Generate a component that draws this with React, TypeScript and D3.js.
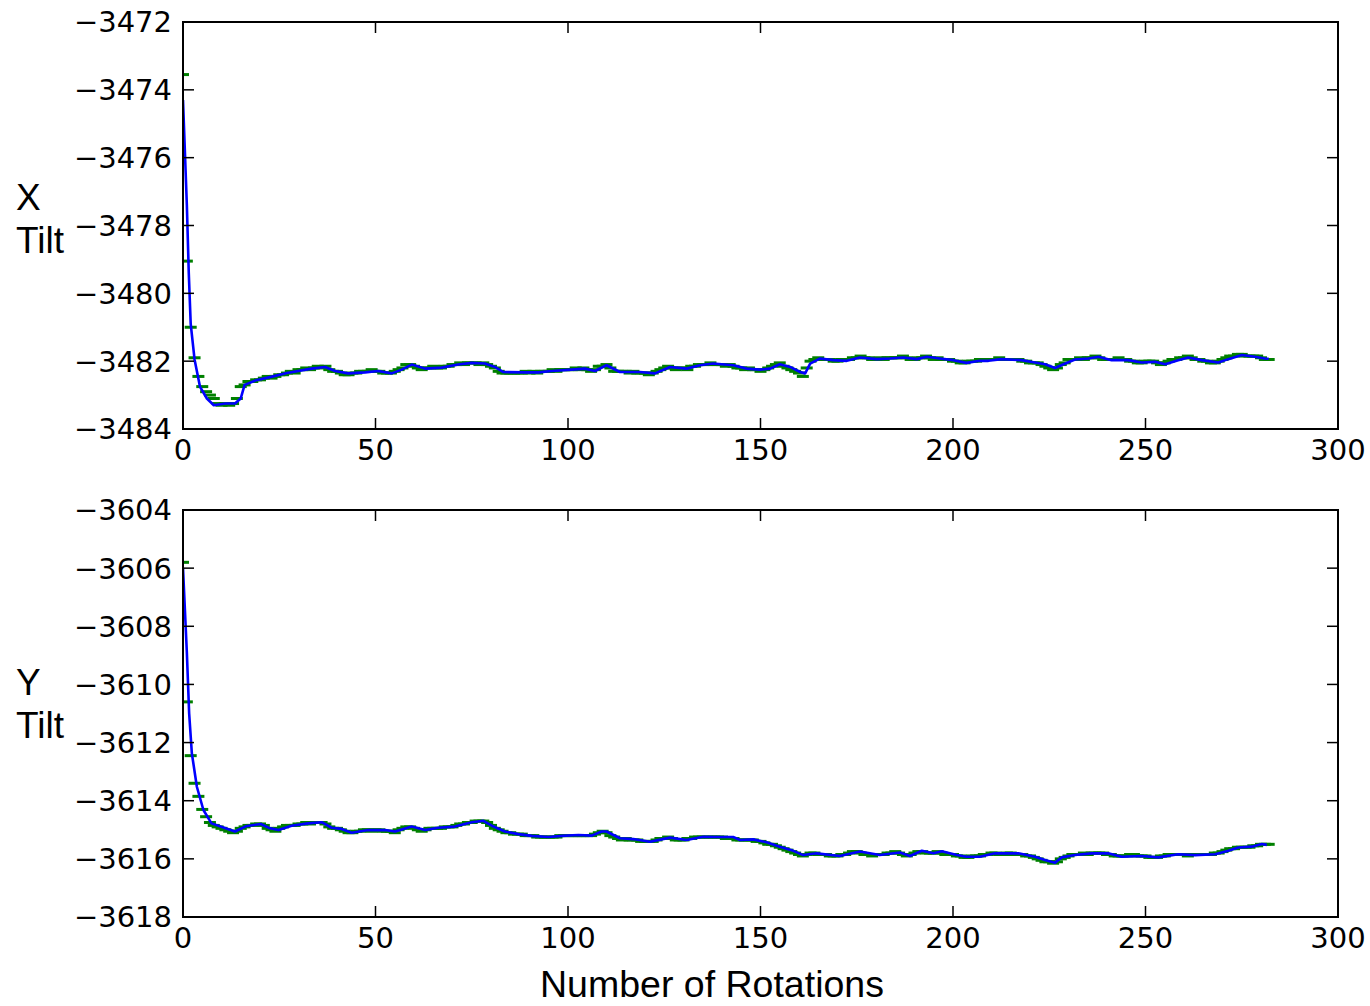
import React from 'react';
import * as d3 from 'd3';

// raw tilt readings, one per rotation (green "_" markers)
const xTiltRaw = [
  -3473.55, -3479.05, -3481.0, -3481.9, -3482.45, -3482.75, -3482.9, -3483.0, -3483.1, -3483.25,
  -3483.3, -3483.25, -3483.3, -3483.25, -3483.1, -3482.75, -3482.7, -3482.6, -3482.6, -3482.55,
  -3482.55, -3482.5, -3482.45, -3482.5, -3482.45, -3482.4, -3482.4, -3482.35, -3482.3, -3482.35,
  -3482.25, -3482.25, -3482.2, -3482.25, -3482.2, -3482.15, -3482.2, -3482.15, -3482.25, -3482.3,
  -3482.3, -3482.35, -3482.4, -3482.4, -3482.35, -3482.35, -3482.3, -3482.3, -3482.3, -3482.25,
  -3482.3, -3482.3, -3482.35, -3482.35, -3482.35, -3482.3, -3482.25, -3482.2, -3482.1, -3482.1,
  -3482.15, -3482.2, -3482.25, -3482.2, -3482.2, -3482.15, -3482.2, -3482.2, -3482.15, -3482.15,
  -3482.1, -3482.1, -3482.05, -3482.1, -3482.05, -3482.05, -3482.05, -3482.1, -3482.05, -3482.1,
  -3482.15, -3482.2, -3482.3, -3482.35, -3482.35, -3482.35, -3482.35, -3482.35, -3482.35, -3482.3,
  -3482.35, -3482.3, -3482.35, -3482.3, -3482.3, -3482.3, -3482.25, -3482.3, -3482.25, -3482.25,
  -3482.25, -3482.25, -3482.2, -3482.25, -3482.2, -3482.25, -3482.3, -3482.25, -3482.15, -3482.15,
  -3482.1, -3482.2, -3482.3, -3482.3, -3482.3, -3482.3, -3482.35, -3482.3, -3482.35, -3482.35,
  -3482.35, -3482.4, -3482.35, -3482.3, -3482.25, -3482.2, -3482.15, -3482.2, -3482.25, -3482.2,
  -3482.2, -3482.25, -3482.15, -3482.15, -3482.1, -3482.1, -3482.1, -3482.05, -3482.1, -3482.1,
  -3482.1, -3482.15, -3482.1, -3482.15, -3482.2, -3482.2, -3482.25, -3482.2, -3482.25, -3482.25,
  -3482.3, -3482.25, -3482.2, -3482.15, -3482.1, -3482.05, -3482.15, -3482.2, -3482.25, -3482.3,
  -3482.35, -3482.45, -3482.2, -3482.0, -3481.95, -3481.9, -3481.95, -3481.95, -3481.95, -3482.0,
  -3482.0, -3481.95, -3481.95, -3481.95, -3481.9, -3481.9, -3481.85, -3481.9, -3481.9, -3481.95,
  -3481.95, -3481.9, -3481.95, -3481.9, -3481.9, -3481.9, -3481.9, -3481.85, -3481.9, -3481.95,
  -3481.95, -3481.9, -3481.9, -3481.85, -3481.9, -3481.95, -3481.9, -3481.95, -3481.95, -3481.95,
  -3482.0, -3482.0, -3482.05, -3482.05, -3482.0, -3482.0, -3482.0, -3481.95, -3481.95, -3481.95,
  -3481.95, -3481.95, -3481.9, -3481.95, -3481.95, -3481.95, -3481.95, -3481.95, -3482.0, -3482.0,
  -3482.05, -3482.05, -3482.05, -3482.1, -3482.15, -3482.2, -3482.25, -3482.2, -3482.1, -3482.05,
  -3481.95, -3481.95, -3481.95, -3481.9, -3481.95, -3481.9, -3481.9, -3481.85, -3481.9, -3481.95,
  -3481.95, -3481.95, -3481.95, -3481.9, -3481.95, -3481.95, -3482.0, -3482.0, -3482.05, -3482.05,
  -3482.0, -3482.0, -3482.0, -3482.05, -3482.1, -3482.05, -3482.0, -3481.95, -3481.95, -3481.9,
  -3481.9, -3481.85, -3481.9, -3481.95, -3481.95, -3482.0, -3482.0, -3482.05, -3482.05, -3482.0,
  -3481.95, -3481.9, -3481.85, -3481.85, -3481.8, -3481.8, -3481.85, -3481.85, -3481.85, -3481.85,
  -3481.9, -3481.95, -3481.95,
];

const yTiltRaw = [
  -3605.8, -3610.6, -3612.45, -3613.4, -3613.85, -3614.3, -3614.55, -3614.75, -3614.85, -3614.9,
  -3614.95, -3615.0, -3615.05, -3615.1, -3615.05, -3614.95, -3614.9, -3614.85, -3614.85, -3614.8,
  -3614.8, -3614.85, -3614.95, -3615.0, -3615.05, -3614.95, -3614.9, -3614.85, -3614.85, -3614.85,
  -3614.8, -3614.8, -3614.75, -3614.8, -3614.75, -3614.75, -3614.75, -3614.8, -3614.9, -3614.95,
  -3614.95, -3615.0, -3615.05, -3615.1, -3615.1, -3615.05, -3615.05, -3615.0, -3615.0, -3615.05,
  -3615.0, -3615.0, -3615.05, -3615.05, -3615.05, -3615.1, -3615.0, -3614.95, -3614.9, -3614.9,
  -3614.95, -3615.0, -3615.05, -3615.0, -3614.95, -3614.95, -3614.95, -3614.95, -3614.9, -3614.9,
  -3614.9, -3614.85, -3614.8, -3614.8, -3614.75, -3614.75, -3614.7, -3614.7, -3614.7, -3614.75,
  -3614.85, -3614.95, -3615.0, -3615.05, -3615.1, -3615.1, -3615.15, -3615.15, -3615.15, -3615.2,
  -3615.2, -3615.2, -3615.25, -3615.25, -3615.25, -3615.25, -3615.25, -3615.25, -3615.2, -3615.2,
  -3615.2, -3615.2, -3615.2, -3615.2, -3615.2, -3615.2, -3615.2, -3615.15, -3615.1, -3615.05,
  -3615.1, -3615.2, -3615.25, -3615.3, -3615.35, -3615.3, -3615.35, -3615.35, -3615.35, -3615.4,
  -3615.4, -3615.4, -3615.4, -3615.35, -3615.3, -3615.3, -3615.25, -3615.3, -3615.35, -3615.35,
  -3615.35, -3615.3, -3615.3, -3615.25, -3615.25, -3615.25, -3615.25, -3615.25, -3615.25, -3615.25,
  -3615.25, -3615.3, -3615.3, -3615.3, -3615.35, -3615.35, -3615.35, -3615.35, -3615.35, -3615.4,
  -3615.4, -3615.45, -3615.5, -3615.5, -3615.55, -3615.6, -3615.65, -3615.7, -3615.75, -3615.8,
  -3615.85, -3615.9, -3615.85, -3615.8, -3615.8, -3615.85, -3615.85, -3615.85, -3615.9, -3615.9,
  -3615.9, -3615.85, -3615.85, -3615.8, -3615.75, -3615.75, -3615.8, -3615.85, -3615.85, -3615.9,
  -3615.85, -3615.85, -3615.85, -3615.8, -3615.8, -3615.75, -3615.8, -3615.85, -3615.9, -3615.85,
  -3615.8, -3615.75, -3615.75, -3615.8, -3615.8, -3615.8, -3615.75, -3615.8, -3615.85, -3615.85,
  -3615.85, -3615.9, -3615.9, -3615.95, -3615.95, -3615.9, -3615.9, -3615.9, -3615.85, -3615.85,
  -3615.8, -3615.8, -3615.85, -3615.85, -3615.8, -3615.8, -3615.85, -3615.85, -3615.85, -3615.9,
  -3615.9, -3615.95, -3616.0, -3616.05, -3616.1, -3616.1, -3616.15, -3616.1, -3616.0, -3615.95,
  -3615.9, -3615.85, -3615.85, -3615.85, -3615.8, -3615.85, -3615.8, -3615.8, -3615.8, -3615.8,
  -3615.85, -3615.85, -3615.9, -3615.9, -3615.9, -3615.9, -3615.85, -3615.85, -3615.9, -3615.9,
  -3615.9, -3615.95, -3615.95, -3615.95, -3615.9, -3615.9, -3615.85, -3615.85, -3615.85, -3615.85,
  -3615.85, -3615.9, -3615.85, -3615.85, -3615.85, -3615.85, -3615.85, -3615.85, -3615.8, -3615.8,
  -3615.75, -3615.7, -3615.65, -3615.65, -3615.6, -3615.6, -3615.6, -3615.6, -3615.55, -3615.55,
  -3615.5, -3615.5, -3615.5,
];

// filtered estimate (blue line), [rotation, tilt]
const xTiltFiltered = [
  [0, -3474.3], [1, -3477.4], [1.5, -3479.4], [2, -3480.9], [3, -3481.95], [4.4, -3482.75],
  [6.2, -3483.1], [8, -3483.3], [11, -3483.25], [13.5, -3483.25], [15, -3483.1], [16, -3482.7],
  [19, -3482.56], [22.6, -3482.47], [27, -3482.35], [33.4, -3482.22], [36.9, -3482.17], [39.5, -3482.29],
  [42.9, -3482.36], [47.3, -3482.33], [50.7, -3482.29], [54.2, -3482.36], [56.8, -3482.25], [59.4, -3482.1],
  [62.9, -3482.22], [67.2, -3482.19], [71.5, -3482.1], [75, -3482.05], [78.4, -3482.07], [81, -3482.17],
  [83.2, -3482.32], [88.8, -3482.33], [92.3, -3482.33], [95.8, -3482.29], [101, -3482.25], [104.4, -3482.22],
  [107, -3482.29], [110, -3482.12], [113.5, -3482.32], [118.7, -3482.32], [122.6, -3482.36], [126.5, -3482.17],
  [130.8, -3482.22], [134.3, -3482.12], [137.7, -3482.07], [142.9, -3482.12], [146.4, -3482.22], [149.9, -3482.25],
  [152.5, -3482.22], [155, -3482.09], [157.7, -3482.17], [160.3, -3482.32], [161.6, -3482.36], [162.9, -3482.07],
  [165.5, -3481.92], [168.9, -3481.97], [172.4, -3481.99], [175.8, -3481.89], [180.2, -3481.94], [183.6, -3481.92],
  [187.1, -3481.89], [190.6, -3481.94], [193.2, -3481.87], [196.6, -3481.92], [200.1, -3481.97], [203.5, -3482.05],
  [207, -3481.99], [209.2, -3481.99], [212.6, -3481.94], [217.8, -3481.97], [221.3, -3482.04], [223.9, -3482.09],
  [226.5, -3482.2], [228.7, -3482.09], [231.7, -3481.95], [235.2, -3481.92], [237.8, -3481.87], [241.2, -3481.97],
  [245.5, -3481.97], [249, -3482.04], [252.5, -3482.02], [255.1, -3482.09], [258.5, -3481.97], [261.1, -3481.89],
  [264.6, -3481.97], [268.9, -3482.04], [271.5, -3481.94], [275, -3481.82], [278.4, -3481.87], [281, -3481.92],
  [282, -3481.93],
];

const yTiltFiltered = [
  [0, -3606.0], [1, -3608.9], [1.6, -3611.0], [2.3, -3612.37], [3.6, -3613.52], [5.3, -3614.32],
  [7.4, -3614.78], [10.5, -3614.92], [13.5, -3615.06], [16.3, -3614.88], [20.2, -3614.8], [22.6, -3614.95],
  [24.8, -3615.01], [28.2, -3614.86], [32.5, -3614.78], [36, -3614.74], [38.6, -3614.93], [41.2, -3614.97],
  [43.8, -3615.1], [48.1, -3615.01], [52.5, -3615.01], [55.1, -3615.06], [59.4, -3614.89], [62.9, -3615.01],
  [66.3, -3614.93], [70.6, -3614.89], [75, -3614.74], [78, -3614.69], [80.2, -3614.86], [83.6, -3615.06],
  [87.1, -3615.15], [90.6, -3615.21], [94.9, -3615.25], [98.4, -3615.21], [102.7, -3615.18], [106.2, -3615.2],
  [108.7, -3615.06], [110, -3615.06], [113.5, -3615.29], [117, -3615.32], [121.3, -3615.41], [126.5, -3615.27],
  [130.8, -3615.35], [135.1, -3615.24], [139.5, -3615.25], [142.9, -3615.25], [144.7, -3615.35], [148.1, -3615.33],
  [151.6, -3615.43], [155, -3615.58], [158.1, -3615.7], [161.1, -3615.87], [164.6, -3615.81], [170.6, -3615.9],
  [175.8, -3615.75], [181, -3615.87], [186.2, -3615.78], [188.8, -3615.9], [191.9, -3615.72], [194.9, -3615.81],
  [197.1, -3615.74], [201, -3615.87], [203.5, -3615.93], [207, -3615.93], [210.9, -3615.81], [217, -3615.81],
  [221.3, -3615.93], [223.9, -3616.04], [226.5, -3616.13], [228.2, -3615.95], [231.7, -3615.87], [236, -3615.81],
  [240.3, -3615.81], [243.8, -3615.93], [249, -3615.9], [253.3, -3615.95], [258.5, -3615.84], [262.9, -3615.87],
  [268.1, -3615.84], [271.5, -3615.72], [274.1, -3615.61], [277.6, -3615.58], [280.2, -3615.49], [281.5, -3615.52],
];

const xTicks = [0, 50, 100, 150, 200, 250, 300];
const xTiltTicks = [-3484, -3482, -3480, -3478, -3476, -3474, -3472];
const yTiltTicks = [-3618, -3616, -3614, -3612, -3610, -3608, -3606, -3604];

const W = 1370;
const H = 1006;
const left = 183;
const right = 1338;
const tickFont = "'DejaVu Sans', sans-serif";
const labelFont = "'Liberation Sans', Arial, sans-serif";
const fmt = (v: number) => String(v).replace('-', '\u2212');

const panels = [
  { id: 'xt', top: 22, bottom: 429, ticks: xTiltTicks, raw: xTiltRaw, filtered: xTiltFiltered, label: ['X', 'Tilt'], labelY: 210 },
  { id: 'yt', top: 510, bottom: 917, ticks: yTiltTicks, raw: yTiltRaw, filtered: yTiltFiltered, label: ['Y', 'Tilt'], labelY: 695 },
];

const Panel = ({ p }: { p: typeof panels[0] }) => {
  const x = d3.scaleLinear().domain([0, 300]).range([left, right]);
  const y = d3.scaleLinear().domain(d3.extent(p.ticks) as [number, number]).range([p.bottom, p.top]);
  const line = d3.line<number[]>().x(d => x(d[0])).y(d => y(d[1]));
  const tickLen = 11;

  return (
    <g>
      <defs>
        <clipPath id={`clip-${p.id}`}>
          <rect x={left} y={p.top} width={right - left} height={p.bottom - p.top} />
        </clipPath>
      </defs>
      <g clipPath={`url(#clip-${p.id})`}>
        {p.raw.map((v, i) => (
          <line key={i} x1={x(i) - 6} x2={x(i) + 6} y1={y(v)} y2={y(v)} stroke="#008000" strokeWidth={3} />
        ))}
        <path d={line(p.filtered) || ''} fill="none" stroke="#0000ff" strokeWidth={2.6} strokeLinejoin="round" />
      </g>

      {/* ticks inside, on all four sides */}
      {p.ticks.map(t => (
        <g key={t}>
          <line x1={left} x2={left + tickLen} y1={y(t)} y2={y(t)} stroke="#000" strokeWidth={1.5} />
          <line x1={right - tickLen} x2={right} y1={y(t)} y2={y(t)} stroke="#000" strokeWidth={1.5} />
          <text x={left - 11} y={y(t)} dy="0.36em" textAnchor="end" fontFamily={tickFont} fontSize={29} fill="#000">
            {fmt(t)}
          </text>
        </g>
      ))}
      {xTicks.map(t => (
        <g key={t}>
          <line x1={x(t)} x2={x(t)} y1={p.bottom} y2={p.bottom - tickLen} stroke="#000" strokeWidth={1.5} />
          <line x1={x(t)} x2={x(t)} y1={p.top} y2={p.top + tickLen} stroke="#000" strokeWidth={1.5} />
          <text x={x(t)} y={p.bottom + 31} textAnchor="middle" fontFamily={tickFont} fontSize={29} fill="#000">
            {t}
          </text>
        </g>
      ))}

      <rect x={left} y={p.top} width={right - left} height={p.bottom - p.top} fill="none" stroke="#000" strokeWidth={2} />

      <text x={16} y={p.labelY} fontFamily={labelFont} fontSize={37} fill="#000">
        <tspan x={16}>{p.label[0]}</tspan>
        <tspan x={16} dy={43}>{p.label[1]}</tspan>
      </text>
    </g>
  );
};

export default function App() {
  return (
    <svg width={W} height={H} style={{ position: 'absolute', left: 0, top: 0, background: '#fff' }}>
      <rect width={W} height={H} fill="#fff" />
      {panels.map(p => <Panel key={p.id} p={p} />)}
      <text x={712} y={997} textAnchor="middle" fontFamily={labelFont} fontSize={37.5} fill="#000">
        Number of Rotations
      </text>
    </svg>
  );
}
